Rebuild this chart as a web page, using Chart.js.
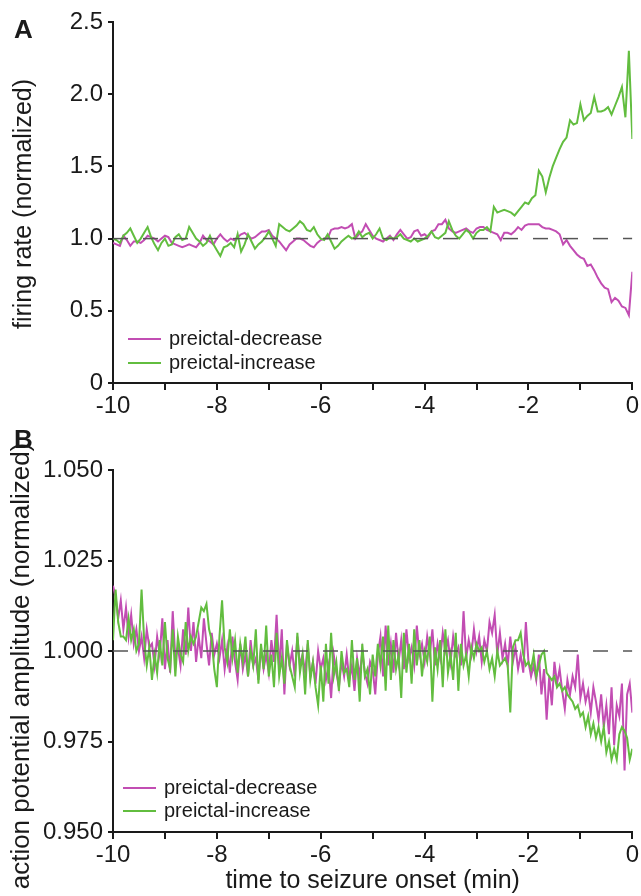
<!DOCTYPE html>
<html>
<head>
<meta charset="utf-8">
<script src="https://cdn.jsdelivr.net/npm/chart.js@4.4.1/dist/chart.umd.min.js"></script>
<style>
  html, body { margin: 0; padding: 0; background: #fff; }
  #fig { position: relative; width: 641px; height: 896px; font-family: "Liberation Sans", Arial, sans-serif; color: #1a1a1a; }
  canvas { position: absolute; left: 0; }
  .panel { position: absolute; left: 14px; font-weight: bold; font-size: 26px; line-height: 26px; }
  .leg { position: absolute; font-size: 20px; line-height: 20px; white-space: nowrap; }
  .leg i { display: inline-block; width: 33px; height: 2px; vertical-align: middle; margin-right: 8px; position: relative; top: -1px; }
  /* rotated y-axis titles, centred on (left + 300, top + 15) */
  .ytitle { position: absolute; width: 600px; height: 30px; line-height: 30px; text-align: center; white-space: nowrap; transform: rotate(-90deg); }
</style>
</head>
<body>
<div id="fig">
  <canvas id="chartA" width="641" height="430" style="top:0"></canvas>
  <canvas id="chartB" width="641" height="466" style="top:430px"></canvas>
  <div class="panel" style="top:16px">A</div>
  <div class="panel" style="top:426px">B</div>
  <div class="ytitle" style="left:-278px;top:189px;font-size:25px">firing rate (normalized)</div>
  <div class="ytitle" style="left:-280px;top:651px;font-size:26px">action potential amplitude (normalized)</div>
  <div class="leg" style="left:128px;top:328px"><i style="background:#c24db3"></i>preictal-decrease</div>
  <div class="leg" style="left:128px;top:352px"><i style="background:#62bd3f"></i>preictal-increase</div>
  <div class="leg" style="left:123px;top:777px"><i style="background:#c24db3"></i>preictal-decrease</div>
  <div class="leg" style="left:123px;top:800px"><i style="background:#62bd3f"></i>preictal-increase</div>
</div>
<script>
// ---- data ----
// A: firing rate, normalized, 4 s bins from -10 to 0 min
const rateDecrease = [
  0.97, 0.96, 0.95, 1.02, 0.99, 0.95, 0.98, 0.98, 0.97, 0.99,
  1.02, 1.01, 1.00, 0.98, 1.00, 1.02, 1.01, 0.97, 0.96, 0.95,
  0.94, 0.95, 0.96, 0.95, 0.94, 0.97, 1.02, 0.99, 0.98, 0.96,
  1.00, 1.03, 1.00, 0.98, 1.00, 0.99, 1.01, 1.03, 1.04, 1.02,
  1.00, 1.01, 1.03, 1.05, 1.05, 1.06, 1.02, 1.00, 0.98, 0.95,
  0.92, 0.96, 0.98, 1.00, 1.00, 0.99, 0.97, 0.95, 0.94, 0.97,
  0.99, 1.00, 1.00, 1.06, 1.07, 1.07, 1.08, 1.07, 1.08, 1.10,
  1.00, 1.03, 1.05, 1.10, 1.06, 1.02, 1.00, 0.99, 0.98, 1.00,
  1.02, 0.99, 1.03, 1.06, 1.03, 1.00, 1.01, 1.05, 1.06, 1.02,
  1.03, 1.01, 1.05, 1.06, 1.10, 1.10, 1.13, 1.07, 1.05, 1.04,
  1.05, 1.06, 1.07, 1.05, 1.04, 1.07, 1.08, 1.08, 1.06, 1.05,
  1.04, 1.03, 0.99, 1.04, 1.04, 1.03, 1.05, 1.08, 1.06, 1.09,
  1.10, 1.10, 1.10, 1.10, 1.08, 1.07, 1.07, 1.06, 1.05, 1.03,
  0.96, 0.99, 0.95, 0.92, 0.89, 0.87, 0.86, 0.81, 0.82, 0.78,
  0.73, 0.69, 0.66, 0.65, 0.56, 0.59, 0.57, 0.53, 0.52, 0.47,
  0.77
];
const rateIncrease = [
  1.00, 0.99, 0.97, 1.02, 1.04, 1.07, 1.02, 0.97, 1.00, 1.04,
  1.08, 1.01, 0.96, 0.92, 0.97, 1.00, 0.95, 0.96, 1.01, 1.03,
  0.99, 1.00, 1.08, 1.04, 1.00, 0.98, 0.95, 0.97, 1.02, 0.96,
  0.92, 0.88, 0.94, 0.95, 0.97, 0.94, 1.03, 0.91, 0.96, 1.03,
  0.98, 0.93, 0.96, 0.98, 1.01, 1.05, 1.00, 0.95, 1.10, 1.08,
  1.06, 1.05, 1.07, 1.09, 1.12, 1.10, 1.06, 1.05, 1.08, 1.03,
  1.00, 0.99, 1.03, 0.98, 0.93, 0.95, 0.98, 1.00, 1.02, 1.00,
  1.01, 1.05, 1.01, 1.03, 1.04, 1.00, 1.03, 1.07, 1.00, 0.99,
  1.01, 1.00, 1.01, 1.03, 1.00, 0.99, 0.98, 1.00, 0.98, 0.99,
  1.00, 1.02, 1.05, 1.01, 1.00, 1.02, 1.04, 1.12, 1.06, 1.02,
  1.00, 1.03, 1.06, 1.04, 1.00, 1.04, 1.06, 1.06, 1.08, 1.05,
  1.22, 1.18, 1.19, 1.20, 1.19, 1.18, 1.16, 1.19, 1.22, 1.25,
  1.24, 1.28, 1.30, 1.47, 1.43, 1.32, 1.42, 1.50, 1.56, 1.62,
  1.67, 1.70, 1.82, 1.79, 1.80, 1.93, 1.82, 1.85, 1.87, 1.98,
  1.88, 1.88, 1.89, 1.91, 1.86, 1.92, 1.98, 2.05, 1.84, 2.30,
  1.69
];

// B: action potential amplitude, normalized, 3 s bins from -10 to 0 min
const apDecrease = [
  1.018, 1.015, 1.009, 1.014, 1.006, 1.012, 1.004, 1.010, 1.002, 1.006, 1.000,
  1.004, 0.998, 1.006, 1.001, 1.002, 0.996, 1.004, 0.999, 1.009, 0.995,
  1.003, 0.994, 1.011, 0.998, 1.001, 0.996, 1.006, 0.999, 1.012, 1.000,
  1.008, 0.997, 1.004, 0.998, 1.009, 1.002, 0.996, 1.005, 0.999, 1.002,
  0.998, 1.003, 0.995, 1.001, 0.994, 1.004, 0.997, 0.992, 1.002, 0.995,
  0.999, 0.993, 1.003, 0.996, 0.998, 0.992, 1.001, 0.995, 0.999, 0.994,
  1.003, 0.997, 1.010, 0.995, 1.006, 0.988, 1.002, 0.996, 1.000, 0.993,
  1.004, 0.996, 0.999, 0.994, 1.002, 0.993, 0.997, 0.991, 1.000, 0.995,
  0.998, 0.992, 0.996, 0.987, 0.999, 0.994, 0.990, 0.997, 0.993, 0.999,
  0.992, 0.996, 0.989, 0.998, 0.993, 1.000, 0.994, 0.991, 0.997, 0.995,
  0.988, 0.999, 1.004, 0.993, 1.007, 0.996, 1.002, 0.994, 1.005, 0.997,
  1.003, 0.995, 1.006, 0.998, 1.001, 0.996, 1.007, 0.999, 1.002, 0.997,
  1.004, 0.999, 1.006, 0.996, 1.002, 0.998, 1.005, 1.000, 1.003, 0.997,
  1.004, 0.999, 1.001, 0.996, 1.011, 0.998, 1.003, 0.999, 1.006, 1.000,
  1.004, 0.997, 1.003, 1.000, 1.008, 1.005, 1.010, 0.999, 1.005, 0.998,
  1.002, 0.996, 1.004, 0.997, 1.001, 0.995, 0.999, 0.994, 1.008, 0.997,
  0.993, 0.996, 0.992, 0.999, 0.988, 0.995, 0.981, 0.993, 0.985, 0.997,
  0.991, 0.995, 0.989, 0.984, 0.992, 0.988, 0.993, 0.990, 0.999, 0.987,
  0.991, 0.986, 0.989, 0.983, 0.990, 0.986, 0.981, 0.988, 0.979, 0.985,
  0.977, 0.990, 0.974, 0.985, 0.982, 0.991, 0.967, 0.988, 0.991, 0.983
];
const apIncrease = [
  1.003, 1.017, 1.008, 1.004, 1.004, 1.003, 1.009, 1.003, 1.006, 1.000, 1.002,
  1.017, 1.003, 0.996, 1.001, 0.992, 0.999, 0.994, 1.003, 0.996, 1.008,
  0.998, 0.995, 1.006, 0.993, 1.004, 0.999, 0.997, 1.008, 1.000, 1.004,
  1.002, 1.004, 1.008, 1.012, 1.011, 1.013, 1.006, 1.003, 0.995, 0.990,
  1.004, 1.014, 1.001, 0.997, 1.006, 0.998, 1.003, 0.994, 1.002, 0.997,
  1.004, 0.993, 1.000, 0.996, 1.006, 0.991, 1.002, 0.995, 1.007, 0.993,
  0.999, 0.990, 1.005, 0.993, 0.998, 0.991, 1.003, 0.996, 0.993, 0.990,
  1.005, 0.994, 0.999, 0.988, 1.003, 0.992, 0.997, 0.990, 0.985, 0.996,
  0.986, 1.002, 0.991, 1.005, 0.993, 0.997, 0.989, 1.000, 0.994, 0.995,
  0.990, 1.003, 0.992, 0.998, 0.986, 1.002, 0.993, 0.995, 0.988, 0.999,
  0.993, 1.002, 0.996, 1.004, 0.989, 1.007, 0.992, 1.003, 0.995, 0.999,
  0.987, 1.005, 0.994, 1.002, 0.991, 1.006, 0.996, 1.003, 0.993, 1.000,
  0.997, 1.004, 0.986, 1.001, 0.995, 1.003, 0.990, 1.006, 0.994, 0.999,
  0.992, 1.005, 0.989, 1.002, 0.996, 0.999, 0.993, 1.001, 0.998, 1.002,
  1.000, 1.001, 0.997, 1.000, 0.995, 0.998, 0.993, 1.000, 0.996, 0.997,
  0.998, 0.996, 0.983, 1.001, 1.003, 1.003, 1.005, 0.999, 0.996, 0.997,
  0.995, 0.999, 0.993, 0.996, 0.999, 1.000, 0.994, 0.993, 0.992, 0.993,
  0.990, 0.991, 0.989, 0.990, 0.988, 0.987, 0.986, 0.984, 0.985, 0.982,
  0.983, 0.979, 0.982, 0.977, 0.980, 0.976, 0.979, 0.975, 0.979, 0.972,
  0.975, 0.970, 0.973, 0.970, 0.977, 0.979, 0.978, 0.976, 0.970, 0.973
];

const timeRange = [-10, 0];      // minutes to seizure onset
const baseline = 1.0;             // dashed reference level
const seriesNames = ["preictal-decrease", "preictal-increase"];
const seriesColors = ["#c24db3", "#62bd3f"];

// ---- helpers ----
Chart.defaults.font.family = '"Liberation Sans", Arial, sans-serif';
Chart.defaults.color = "#1a1a1a";

// spread values evenly over the time range
function toPoints(values) {
  const step = (timeRange[1] - timeRange[0]) / (values.length - 1);
  return values.map((v, i) => ({ x: timeRange[0] + i * step, y: v }));
}

function lineSet(label, values, color) {
  return {
    label, data: toPoints(values), borderColor: color, borderWidth: 2,
    pointRadius: 0, tension: 0, fill: false
  };
}

function makePanel(id, opts) {
  const axisCol = "#1a1a1a";
  return new Chart(document.getElementById(id), {
    type: "line",
    data: {
      datasets: [
        // dashed baseline sits on top of the traces
        {
          label: "baseline",
          data: [{ x: timeRange[0], y: baseline }, { x: timeRange[1], y: baseline }],
          borderColor: "#555", borderWidth: 1.5, borderDash: [15, 15],
          pointRadius: 0, fill: false
        },
        lineSet(seriesNames[1], opts.increase, seriesColors[1]),
        lineSet(seriesNames[0], opts.decrease, seriesColors[0])
      ]
    },
    options: {
      responsive: false,
      animation: false,
      devicePixelRatio: 1,
      layout: { padding: { top: opts.padTop, right: 8, bottom: 0, left: 0 } },
      plugins: { legend: { display: false }, tooltip: { enabled: false } },
      scales: {
        x: {
          type: "linear", min: timeRange[0], max: timeRange[1],
          afterFit: (s) => { s.height = opts.xHeight; },
          border: { display: true, color: axisCol, width: 2 },
          grid: { drawOnChartArea: false, drawTicks: true, tickLength: 7, color: axisCol, lineWidth: 2 },
          ticks: {
            stepSize: 1, padding: 2, font: { size: 24 }, color: axisCol, maxRotation: 0,
            callback: (v) => (Math.round(v) % 2 === 0 ? String(Math.round(v)) : "")
          },
          title: {
            display: !!opts.xTitle, text: opts.xTitle || "",
            font: { size: 25 }, color: axisCol, padding: { top: 0, bottom: 0 }
          }
        },
        y: {
          min: opts.yMin, max: opts.yMax,
          afterFit: (s) => { s.width = 113; },
          border: { display: true, color: axisCol, width: 2 },
          grid: { drawOnChartArea: false, drawTicks: true, tickLength: 5, color: axisCol, lineWidth: 2 },
          ticks: { stepSize: opts.yStep, padding: 5, font: { size: 24 }, color: axisCol, callback: opts.yFmt },
          title: { display: false }
        }
      }
    }
  });
}

makePanel("chartA", {
  decrease: rateDecrease, increase: rateIncrease,
  yMin: 0, yMax: 2.5, yStep: 0.5,
  yFmt: (v) => (v === 0 ? "0" : v.toFixed(1)),
  padTop: 22, xHeight: 47
});

makePanel("chartB", {
  decrease: apDecrease, increase: apIncrease,
  yMin: 0.95, yMax: 1.05, yStep: 0.025,
  yFmt: (v) => v.toFixed(3),
  xTitle: "time to seizure onset (min)",
  padTop: 40, xHeight: 64
});
</script>
</body>
</html>
